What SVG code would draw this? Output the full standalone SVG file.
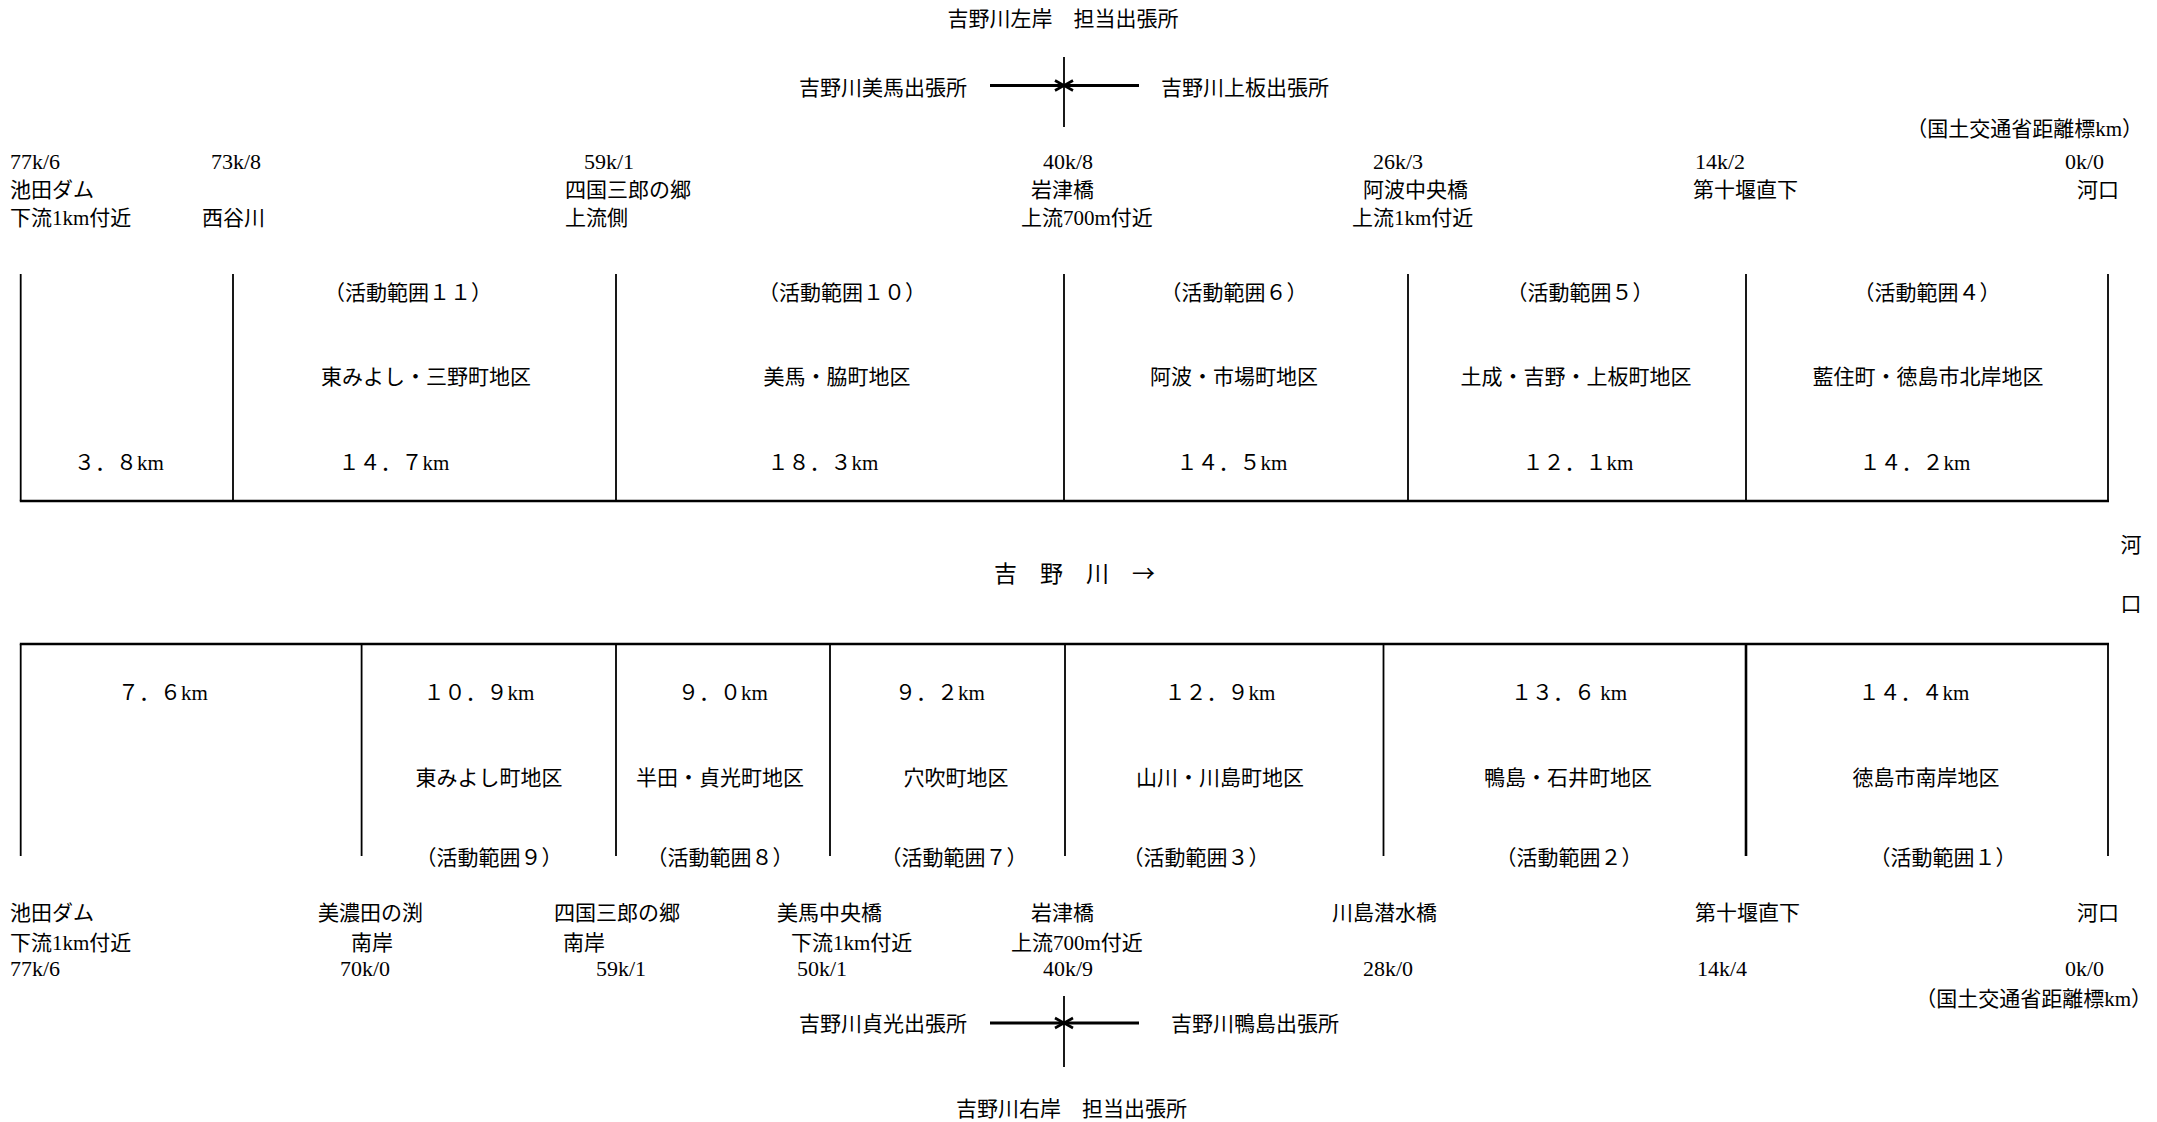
<svg xmlns="http://www.w3.org/2000/svg" width="2157" height="1122" viewBox="0 0 2157 1122">
<style>
text{font-family:"Liberation Serif","Noto Sans CJK JP",serif;font-size:21px;fill:#000}
.m{text-anchor:middle}
.e{text-anchor:end}
.n{font-size:22px}
.fr{stroke:#000;stroke-width:1.8;fill:none}
.frb{stroke:#000;stroke-width:2.6;fill:none}
.ar{stroke:#000;stroke-width:3;fill:none}
.ax{stroke:#000;stroke-width:1.8;fill:none}
.river{font-family:"Noto Sans CJK JP",sans-serif;font-size:23px}
</style>
<defs>
<marker id="head" markerUnits="userSpaceOnUse" markerWidth="12" markerHeight="12" refX="9" refY="5" orient="auto" overflow="visible">
<path d="M0,0 L9,5 L0,10" fill="none" stroke="#000" stroke-width="2.6"/>
</marker>
</defs>
<rect width="2157" height="1122" fill="#fff"/>

<!-- connectors: office boundary arrows -->
<g id="connectors">
<line class="ax" x1="1064" y1="57" x2="1064" y2="127"/>
<line class="ar" x1="990" y1="85.5" x2="1064" y2="85.5" marker-end="url(#head)"/>
<line class="ar" x1="1139" y1="85.5" x2="1064" y2="85.5" marker-end="url(#head)"/>
<line class="ax" x1="1064" y1="996" x2="1064" y2="1067"/>
<line class="ar" x1="990" y1="1023" x2="1064" y2="1023" marker-end="url(#head)"/>
<line class="ar" x1="1139" y1="1023" x2="1064" y2="1023" marker-end="url(#head)"/>
</g>

<!-- top header -->
<g id="left-bank-header">
<text class="m" x="1063" y="26">吉野川左岸　担当出張所</text>
<text x="799" y="95">吉野川美馬出張所</text>
<text x="1161" y="95">吉野川上板出張所</text>
<text class="e" x="2143" y="136">（国土交通省距離標km）</text>
</g>

<g id="top-points">
<text class="n" x="10" y="169">77k/6</text>
<text x="10" y="197">池田ダム</text>
<text x="10" y="225">下流1km付近</text>
<text class="n" x="211" y="169">73k/8</text>
<text x="202" y="225">西谷川</text>
<text class="n" x="584" y="169">59k/1</text>
<text x="565" y="197">四国三郎の郷</text>
<text x="565" y="225">上流側</text>
<text class="n" x="1043" y="169">40k/8</text>
<text x="1031" y="197">岩津橋</text>
<text x="1021" y="225">上流700m付近</text>
<text class="n" x="1373" y="169">26k/3</text>
<text x="1363" y="197">阿波中央橋</text>
<text x="1352" y="225">上流1km付近</text>
<text class="n" x="1695" y="169">14k/2</text>
<text x="1693" y="197">第十堰直下</text>
<text class="n" x="2065" y="169">0k/0</text>
<text x="2077" y="197">河口</text>
</g>

<!-- upper frame -->
<g id="upper-frame">
<path class="fr" d="M20.7,274V501M233,274V501M616,274V501M1064,274V501M1408,274V501M1746,274V501M2108,274V501"/>
<line class="frb" x1="19.8" y1="501" x2="2109" y2="501"/>
</g>

<g id="upper-seg-0">
<text class="m" x="119" y="470">３．８km</text>
</g>
<g id="upper-seg-11">
<text class="m" x="408" y="300">（活動範囲１１）</text>
<text class="m" x="426" y="384">東みよし・三野町地区</text>
<text class="m" x="394" y="470">１４．７km</text>
</g>
<g id="upper-seg-10">
<text class="m" x="842" y="300">（活動範囲１０）</text>
<text class="m" x="837" y="384">美馬・脇町地区</text>
<text class="m" x="823" y="470">１８．３km</text>
</g>
<g id="upper-seg-6">
<text class="m" x="1234" y="300">（活動範囲６）</text>
<text class="m" x="1234" y="384">阿波・市場町地区</text>
<text class="m" x="1232" y="470">１４．５km</text>
</g>
<g id="upper-seg-5">
<text class="m" x="1580" y="300">（活動範囲５）</text>
<text class="m" x="1576" y="384">土成・吉野・上板町地区</text>
<text class="m" x="1578" y="470">１２．１km</text>
</g>
<g id="upper-seg-4">
<text class="m" x="1927" y="300">（活動範囲４）</text>
<text class="m" x="1928" y="384">藍住町・徳島市北岸地区</text>
<text class="m" x="1915" y="470">１４．２km</text>
</g>

<!-- river -->
<g id="river">
<text class="river" x="994" y="582">吉　野　川　→</text>
<text class="m" x="2131" y="552">河</text>
<text class="m" x="2131" y="611">口</text>
</g>

<!-- lower frame -->
<g id="lower-frame">
<line class="frb" x1="19.8" y1="644" x2="2109" y2="644"/>
<path class="fr" d="M20.7,644V856M361.6,644V856M616,644V856M830,644V856M1065,644V856M1383.5,644V856M2108,644V856"/>
<line class="frb" x1="1746" y1="644" x2="1746" y2="856"/>
</g>

<g id="lower-seg-0">
<text class="m" x="163" y="700">７．６km</text>
</g>
<g id="lower-seg-9">
<text class="m" x="479" y="700">１０．９km</text>
<text class="m" x="489" y="785">東みよし町地区</text>
<text class="m" x="489" y="865">（活動範囲９）</text>
</g>
<g id="lower-seg-8">
<text class="m" x="723" y="700">９．０km</text>
<text class="m" x="720" y="785">半田・貞光町地区</text>
<text class="m" x="720" y="865">（活動範囲８）</text>
</g>
<g id="lower-seg-7">
<text class="m" x="940" y="700">９．２km</text>
<text class="m" x="956" y="785">穴吹町地区</text>
<text class="m" x="954" y="865">（活動範囲７）</text>
</g>
<g id="lower-seg-3">
<text class="m" x="1220" y="700">１２．９km</text>
<text class="m" x="1220" y="785">山川・川島町地区</text>
<text class="m" x="1196" y="865">（活動範囲３）</text>
</g>
<g id="lower-seg-2">
<text class="m" x="1569" y="700">１３．６ km</text>
<text class="m" x="1568" y="785">鴨島・石井町地区</text>
<text class="m" x="1569" y="865">（活動範囲２）</text>
</g>
<g id="lower-seg-1">
<text class="m" x="1914" y="700">１４．４km</text>
<text class="m" x="1926" y="785">徳島市南岸地区</text>
<text class="m" x="1943" y="865">（活動範囲１）</text>
</g>

<g id="bottom-points">
<text x="10" y="920">池田ダム</text>
<text x="10" y="950">下流1km付近</text>
<text class="n" x="10" y="976">77k/6</text>
<text x="318" y="920">美濃田の渕</text>
<text x="351" y="950">南岸</text>
<text class="n" x="340" y="976">70k/0</text>
<text x="554" y="920">四国三郎の郷</text>
<text x="563" y="950">南岸</text>
<text class="n" x="596" y="976">59k/1</text>
<text x="777" y="920">美馬中央橋</text>
<text x="791" y="950">下流1km付近</text>
<text class="n" x="797" y="976">50k/1</text>
<text x="1031" y="920">岩津橋</text>
<text x="1011" y="950">上流700m付近</text>
<text class="n" x="1043" y="976">40k/9</text>
<text x="1332" y="920">川島潜水橋</text>
<text class="n" x="1363" y="976">28k/0</text>
<text x="1695" y="920">第十堰直下</text>
<text class="n" x="1697" y="976">14k/4</text>
<text x="2077" y="920">河口</text>
<text class="n" x="2065" y="976">0k/0</text>
<text class="e" x="2152" y="1006">（国土交通省距離標km）</text>
</g>

<g id="right-bank-footer">
<text x="799" y="1031">吉野川貞光出張所</text>
<text x="1171" y="1031">吉野川鴨島出張所</text>
<text x="956" y="1116">吉野川右岸　担当出張所</text>
</g>
</svg>
